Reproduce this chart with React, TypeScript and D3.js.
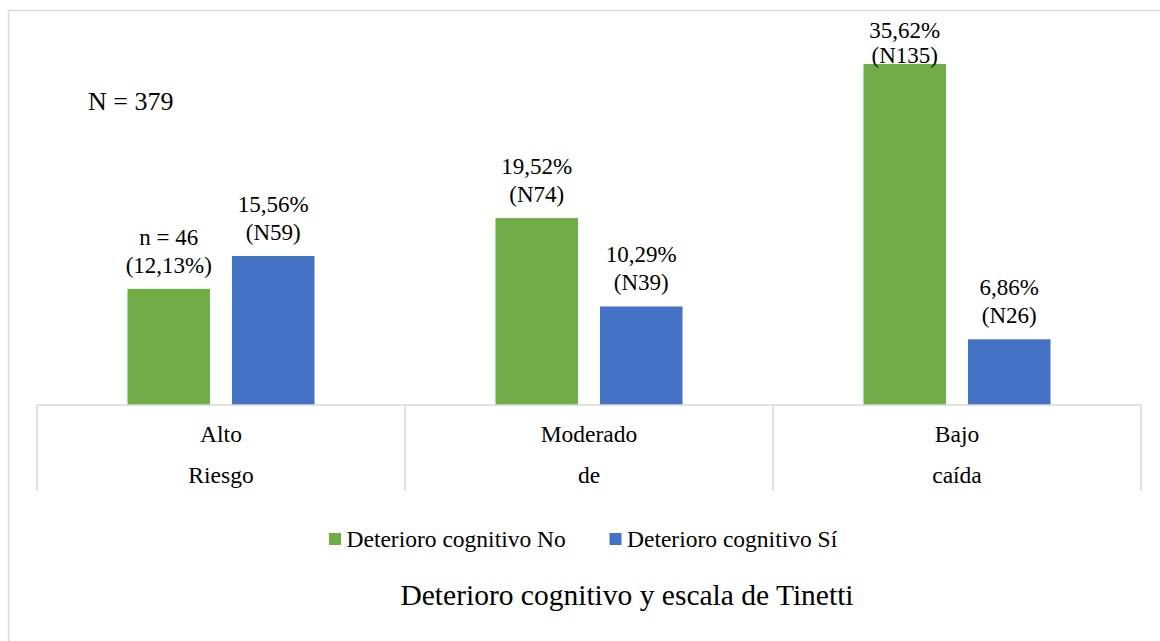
import React from "react";
import * as d3 from "d3";

const categories = ["Alto", "Moderado", "Bajo"];
const outerLabels = ["Riesgo", "de", "caída"];
const seriesNames = ["Deterioro cognitivo No", "Deterioro cognitivo Sí"];
const seriesNo = [12.13, 19.52, 35.62];
const seriesSi = [15.56, 10.29, 6.86];
const labelsNo: [string, string][] = [
  ["n = 46", "(12,13%)"],
  ["19,52%", "(N74)"],
  ["35,62%", "(N135)"],
];
const labelsSi: [string, string][] = [
  ["15,56%", "(N59)"],
  ["10,29%", "(N39)"],
  ["6,86%", "(N26)"],
];
const colors = ["#70AD47", "#4472C4"];
const yDomain = [0, 40];
const totalLabel = "N = 379";
const title = "Deterioro cognitivo y escala de Tinetti";

const FONT = "'Liberation Serif', 'Times New Roman', serif";
const AXIS = "#d9d9d9";

export default function App() {
  const W = 1160;
  const H = 641;
  const left = 37;
  const right = 1141;
  const base = 405;
  const top = 22;

  const x0 = d3.scaleBand<string>().domain(categories).range([left, right]).paddingInner(0).paddingOuter(0);
  const x1 = d3
    .scaleBand<string>()
    .domain(seriesNames)
    .range([0, x0.bandwidth()])
    .paddingInner(0.21)
    .paddingOuter(0.866);
  const y = d3.scaleLinear().domain(yDomain).range([base, top]);

  const series = [seriesNo, seriesSi];
  const labels = [labelsNo, labelsSi];

  return (
    <svg
      width={W}
      height={H}
      style={{ position: "absolute", left: 0, top: 0, fontFamily: FONT }}
    >
      <rect x={0} y={0} width={W} height={H} fill="#fff" />
      {/* chart frame */}
      <rect x={8.5} y={10.5} width={W + 20} height={H + 20} fill="none" stroke={AXIS} strokeWidth={1.5} />

      <text x={88} y={110} fontSize={26} fill="#000">
        {totalLabel}
      </text>

      {/* bars */}
      {series.map((vals, si) =>
        categories.map((c, ci) => {
          const bx = (x0(c) as number) + (x1(seriesNames[si]) as number);
          const by = y(vals[ci]);
          return (
            <rect
              key={`b-${si}-${ci}`}
              x={bx}
              y={by}
              width={x1.bandwidth()}
              height={base - by}
              fill={colors[si]}
            />
          );
        })
      )}

      {/* data labels */}
      {series.map((vals, si) =>
        categories.map((c, ci) => {
          const cx = (x0(c) as number) + (x1(seriesNames[si]) as number) + x1.bandwidth() / 2;
          const by = y(vals[ci]);
          const b2 = Math.max(by - 16, 63);
          const b1 = Math.max(by - 44, 37.5);
          const [l1, l2] = labels[si][ci];
          return (
            <g key={`l-${si}-${ci}`} fontSize={23} textAnchor="middle" fill="#000">
              <text x={cx} y={b1}>{l1}</text>
              <text x={cx} y={b2}>{l2}</text>
            </g>
          );
        })
      )}

      {/* category axis */}
      <line x1={left} x2={right} y1={base} y2={base} stroke={AXIS} strokeWidth={1.5} />
      {[...categories.map((c) => x0(c) as number), right].map((xx, i) => (
        <line key={`t-${i}`} x1={xx} x2={xx} y1={base} y2={491} stroke={AXIS} strokeWidth={1.5} />
      ))}
      {categories.map((c, ci) => {
        const cx = (x0(c) as number) + x0.bandwidth() / 2;
        return (
          <g key={`c-${ci}`} fontSize={23.5} textAnchor="middle" fill="#000">
            <text x={cx} y={442}>{c}</text>
            <text x={cx} y={483}>{outerLabels[ci]}</text>
          </g>
        );
      })}

      {/* legend */}
      {seriesNames.map((s, i) => {
        const lx = i === 0 ? 329 : 609.5;
        return (
          <g key={`lg-${i}`}>
            <rect x={lx} y={533} width={12} height={12} fill={colors[i]} />
            <text x={lx + 17.5} y={547} fontSize={23.5} fill="#000">
              {s}
            </text>
          </g>
        );
      })}

      <text x={627} y={605} fontSize={29.5} textAnchor="middle" fill="#000">
        {title}
      </text>
    </svg>
  );
}
